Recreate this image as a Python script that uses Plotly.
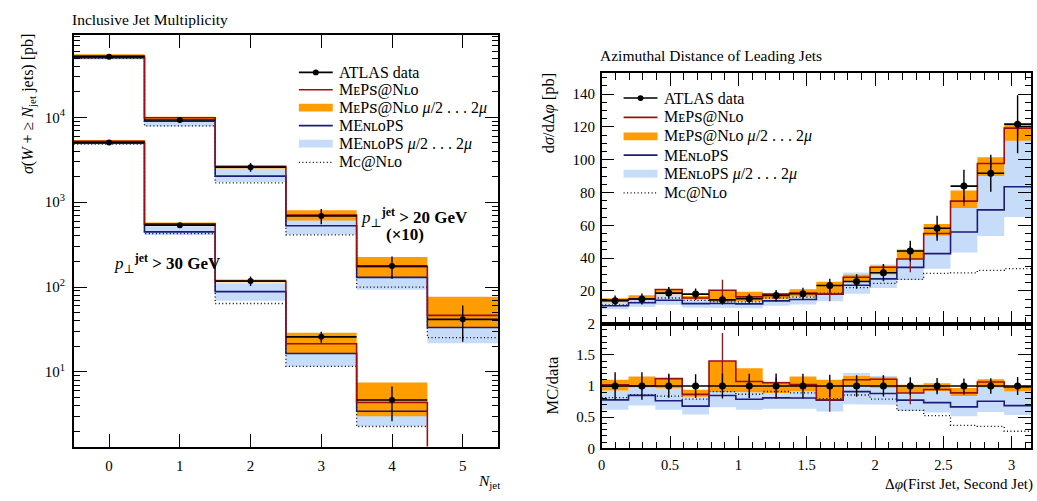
import math
import plotly.graph_objects as go

# ---------------- Inclusive jet multiplicity ----------------
njet = [0, 1, 2, 3, 4, 5]
njet_ticks = ["0", "1", "2", "3", "4", "5"]
# pT(jet) > 20 GeV, scaled x10
data20 = [52000, 9300, 2590, 690, 177, 41.6]
data20_err = [1500, 700, 310, 140, 52, 19]
meps20 = [52700, 9900, 2630, 705, 174, 46.3]
meps20_lo = [49500, 9500, 2500, 607, 130, 33.4]
meps20_hi = [55500, 10200, 2720, 803, 226, 77]
menlops20 = [50700, 9000, 2030, 528, 130, 33.4]
menlops20_lo = [48000, 7800, 1730, 416, 93, 21.7]
menlops20_hi = [53000, 9500, 2520, 650, 175, 40]
mcnlo20 = [49500, 7950, 1690, 413, 100, 25.3]
# pT(jet) > 30 GeV
njet30 = [0, 1, 2, 3, 4]
data30 = [5050, 537, 118, 25.9, 4.67]
data30_err = [150, 30, 15, 3.9, 2.05]
meps30 = [5220, 556, 117, 21.5, 4.35, 0]
meps30_lo = [5000, 530, 114, 16.4, 3.0]
meps30_hi = [5400, 575, 123, 28.9, 7.5]
menlops30 = [4960, 447, 88.4, 16.5, 3.43]
menlops30_lo = [4800, 410, 69, 11.6, 2.28]
menlops30_hi = [5150, 520, 111, 20, 3.6]
mcnlo30 = [4850, 428, 64, 11.6, 2.27]

# ---------------- Azimuthal distance of leading jets ----------------
n_dphi = 16
dphi_data = [14.0, 15.0, 18.6, 18.0, 14.5, 15.2, 17.1, 18.2,
             23.2, 25.7, 31.0, 44.3, 58.2, 83.9, 91.7, 121.7]
dphi_data_err = [3.1, 3.3, 3.5, 3.4, 2.9, 3.0, 3.4, 3.6,
                 4.2, 4.4, 5.2, 6.2, 7.6, 10.0, 11.3, 17.7]
dphi_meps = [14.3, 15.0, 20.8, 15.6, 20.3, 16.3, 18.0, 18.6,
             18.1, 28.3, 34.4, 39.4, 55.0, 74.7, 97.7, 119.3]
dphi_meps_err = [0.8, 0.8, 1.5, 0.8, 6.5, 1.0, 1.5, 1.2,
                 4.5, 1.5, 2.0, 8.0, 2.5, 3.0, 3.0, 5.0]
dphi_meps_lo = [13.0, 14.7, 17.9, 14.9, 13.1, 13.7, 15.2, 16.6,
                17.9, 25.7, 30.1, 39.4, 53.6, 70.6, 90.0, 111.5]
dphi_meps_hi = [15.4, 17.3, 21.0, 16.9, 20.3, 19.5, 18.3, 21.0,
                25.5, 29.8, 35.3, 45.2, 60.8, 81.2, 101.5, 121.5]
dphi_menlops = [10.9, 12.75, 14.2, 12.2, 12.3, 12.0, 13.85, 14.7,
                17.9, 23.4, 27.3, 34.3, 42.7, 55.9, 69.4, 83.5]
dphi_menlops_lo = [8.7, 10.3, 11.5, 9.8, 9.6, 9.4, 10.9, 11.6,
                   13.7, 18.2, 21.7, 26.6, 33.5, 43.4, 53.4, 65.0]
dphi_menlops_hi = [13.0, 14.85, 17.7, 14.9, 13.6, 13.7, 15.6, 16.6,
                   22.0, 31.1, 36.0, 39.9, 53.6, 70.6, 92.0, 112.0]
dphi_mcnlo = [11.4, 12.9, 15.6, 14.2, 13.2, 13.2, 15.6, 16.2,
              18.5, 22.0, 24.5, 27.0, 30.6, 31.0, 32.5, 33.6]

# ---------------- styling ----------------
W, H = 1037, 501
FONT = "Liberation Serif, DejaVu Serif"
ORANGE = "#ff9c00"
LBLUE = "#c6dcf9"
RED = "#9a1010"
NAVY = "#1c1c78"
DOT = "1px,2.5px"


def px(x):
    return x / W


def py(y):
    return 1 - y / H


def step(edges, vals, floor=None):
    v = [(floor if (floor is not None and y <= 0) else y) for y in vals]
    return list(edges), v + [v[-1]]


def band(edges, lo, hi):
    xs, ys = [], []
    for i in range(len(hi)):
        xs += [edges[i], edges[i + 1]]
        ys += [hi[i], hi[i]]
    for i in reversed(range(len(lo))):
        xs += [edges[i + 1], edges[i]]
        ys += [lo[i], lo[i]]
    xs.append(xs[0])
    ys.append(ys[0])
    return xs, ys


fig = go.Figure()

# ---------- left panel ----------
edges_l = [n - 0.5 for n in njet] + [njet[-1] + 0.5]
edges_l30 = [n - 0.5 for n in njet30] + [njet30[-1] + 0.5]


def add_left(edges, dvals, derr, xs_c, mp, mp_lo, mp_hi, mn, mn_lo, mn_hi, mc):
    bx, by = band(edges, mn_lo, mn_hi)
    fig.add_trace(go.Scatter(x=bx, y=by, fill="toself", fillcolor=LBLUE, line=dict(width=0),
                             mode="lines", showlegend=False, hoverinfo="skip", xaxis="x", yaxis="y"))
    bx, by = band(edges, mp_lo, mp_hi)
    fig.add_trace(go.Scatter(x=bx, y=by, fill="toself", fillcolor=ORANGE, line=dict(width=0),
                             mode="lines", showlegend=False, hoverinfo="skip", xaxis="x", yaxis="y"))
    sx, sy = step(edges, mc)
    fig.add_trace(go.Scatter(x=sx, y=sy, mode="lines", line=dict(color="black", width=1.3, dash=DOT, shape="hv"),
                             showlegend=False, xaxis="x", yaxis="y"))
    sx, sy = step(edges, mn)
    fig.add_trace(go.Scatter(x=sx, y=sy, mode="lines", line=dict(color=NAVY, width=1.6, shape="hv"),
                             showlegend=False, xaxis="x", yaxis="y"))
    e_mp = edges if len(mp) + 1 == len(edges) else edges_l
    sx, sy = step(e_mp, mp, floor=0.01)
    fig.add_trace(go.Scatter(x=sx, y=sy, mode="lines", line=dict(color=RED, width=1.6, shape="hv"),
                             showlegend=False, xaxis="x", yaxis="y"))
    fig.add_trace(go.Scatter(x=xs_c, y=dvals, mode="markers",
                             marker=dict(color="black", size=6),
                             error_x=dict(type="constant", value=0.5, color="black", thickness=1.6, width=0),
                             error_y=dict(type="data", array=derr, color="black", thickness=1.4, width=0),
                             showlegend=False, xaxis="x", yaxis="y"))


add_left(edges_l, data20, data20_err, njet, meps20, meps20_lo, meps20_hi,
         menlops20, menlops20_lo, menlops20_hi, mcnlo20)
add_left(edges_l30, data30, data30_err, njet30, meps30, meps30_lo, meps30_hi,
         menlops30, menlops30_lo, menlops30_hi, mcnlo30)

# ---------- right panels ----------
bw = math.pi / n_dphi
edges_r = [i * bw for i in range(n_dphi + 1)]
centers_r = [(i + 0.5) * bw for i in range(n_dphi)]


def ratio(a):
    return [v / d for v, d in zip(a, dphi_data)]


for xa, ya, scale in (("x2", "y2", False), ("x3", "y3", True)):
    f = ratio if scale else (lambda a: list(a))
    bx, by = band(edges_r, f(dphi_menlops_lo), f(dphi_menlops_hi))
    fig.add_trace(go.Scatter(x=bx, y=by, fill="toself", fillcolor=LBLUE, line=dict(width=0),
                             mode="lines", showlegend=False, hoverinfo="skip", xaxis=xa, yaxis=ya))
    bx, by = band(edges_r, f(dphi_meps_lo), f(dphi_meps_hi))
    fig.add_trace(go.Scatter(x=bx, y=by, fill="toself", fillcolor=ORANGE, line=dict(width=0),
                             mode="lines", showlegend=False, hoverinfo="skip", xaxis=xa, yaxis=ya))
    sx, sy = step(edges_r, f(dphi_mcnlo))
    fig.add_trace(go.Scatter(x=sx, y=sy, mode="lines", line=dict(color="black", width=1.3, dash=DOT, shape="hv"),
                             showlegend=False, xaxis=xa, yaxis=ya))
    sx, sy = step(edges_r, f(dphi_menlops))
    fig.add_trace(go.Scatter(x=sx, y=sy, mode="lines", line=dict(color=NAVY, width=1.6, shape="hv"),
                             showlegend=False, xaxis=xa, yaxis=ya))
    sx, sy = step(edges_r, f(dphi_meps))
    fig.add_trace(go.Scatter(x=sx, y=sy, mode="lines", line=dict(color=RED, width=1.6, shape="hv"),
                             showlegend=False, xaxis=xa, yaxis=ya))
    fig.add_trace(go.Scatter(x=centers_r, y=f(dphi_meps), mode="markers",
                             marker=dict(color="rgba(0,0,0,0)", size=1),
                             error_y=dict(type="data", array=f(dphi_meps_err), color=RED, thickness=1.3, width=0),
                             showlegend=False, hoverinfo="skip", xaxis=xa, yaxis=ya))
    fig.add_trace(go.Scatter(x=centers_r, y=f(dphi_data), mode="markers",
                             marker=dict(color="black", size=7),
                             error_x=dict(type="constant", value=bw / 2, color="black", thickness=1.6, width=0),
                             error_y=dict(type="data", array=f(dphi_data_err), color="black", thickness=1.4, width=0),
                             showlegend=False, xaxis=xa, yaxis=ya))

# ---------- axes ----------
tickfont = dict(family=FONT, size=15, color="black")
common = dict(showline=True, linecolor="black", linewidth=1.6, mirror="ticks", ticks="inside",
              tickcolor="black", tickwidth=1.2, showgrid=False, zeroline=False, tickfont=tickfont)

log_minor = [m * 10 ** k for k in range(0, 5) for m in range(2, 10)]

fig.update_layout(
    width=W, height=H,
    margin=dict(l=0, r=0, t=0, b=0),
    paper_bgcolor="white", plot_bgcolor="white",
    showlegend=False,
    xaxis=dict(domain=[px(70), px(496)], range=[-0.5, 5.5], anchor="y",
               tickvals=njet, ticktext=njet_ticks, ticklen=13, ticklabelstandoff=5, **common),
    yaxis=dict(domain=[py(453), py(28)], type="log", range=[0.12, 4.97], anchor="x",
               tickvals=[10, 100, 1000, 10000],
               ticktext=["10<sup>1</sup>", "10<sup>2</sup>", "10<sup>3</sup>", "10<sup>4</sup>"],
               ticklen=13, ticklabelstandoff=4,
               minor=dict(tickvals=log_minor, ticks="inside", ticklen=6, tickcolor="black", tickwidth=1),
               **common),
    xaxis2=dict(domain=[px(600), px(1031)], range=[0, math.pi], anchor="y2",
                dtick=0.5, tick0=0, ticklen=13, showticklabels=False,
                minor=dict(dtick=0.1, tick0=0, ticks="inside", ticklen=7, tickcolor="black", tickwidth=1),
                **common),
    yaxis2=dict(domain=[py(326), py(67)], range=[0, 153], anchor="x2",
                tickvals=[20, 40, 60, 80, 100, 120, 140], ticklen=13, ticklabelstandoff=2,
                minor=dict(dtick=5, tick0=0, ticks="inside", ticklen=6, tickcolor="black", tickwidth=1),
                **common),
    xaxis3=dict(domain=[px(600), px(1031)], range=[0, math.pi], anchor="y3",
                tickvals=[0, 0.5, 1, 1.5, 2, 2.5, 3], ticktext=["0", "0.5", "1", "1.5", "2", "2.5", "3"],
                ticklen=13, ticklabelstandoff=2,
                minor=dict(dtick=0.1, tick0=0, ticks="inside", ticklen=7, tickcolor="black", tickwidth=1),
                **common),
    yaxis3=dict(domain=[py(455), py(326)], range=[0, 2], anchor="x3",
                tickvals=[0, 0.5, 1, 1.5, 2], ticktext=["0", "0.5", "1", "1.5", "2"], ticklen=13,
                ticklabelstandoff=2,
                minor=dict(dtick=0.1, tick0=0, ticks="inside", ticklen=6, tickcolor="black", tickwidth=1),
                **common),
)
fig.update_xaxes(tickfont=dict(family=FONT, size=14.5, color="black"), selector=dict(anchor="y3"))

# ---------- texts ----------
ann = []


def text(x, y, s, size=15, xanchor="left", yanchor="middle", angle=0):
    ann.append(dict(x=px(x), y=py(y), xref="paper", yref="paper", text=s, showarrow=False,
                    xanchor=xanchor, yanchor=yanchor, textangle=angle, borderpad=0,
                    font=dict(family=FONT, size=size, color="black")))


text(67, 12, "Inclusive Jet Multiplicity", size=15.5)
text(597, 49, "Azimuthal Distance of Leading Jets", size=15.5)
text(24, 26, "<i>σ</i>(<i>W</i> + ≥ <i>N</i><sub>jet</sub> jets) [pb]", size=16, xanchor="center",
     yanchor="top", angle=-90)
text(547, 65, "d<i>σ</i>/dΔ<i>φ</i> [pb]", size=16.5, xanchor="center", yanchor="top", angle=-90)
text(551, 390, "MC/data", size=16.5, xanchor="center", yanchor="middle", angle=-90)
text(499, 489, "<i>N</i><sub>jet</sub>", size=15.5, xanchor="right")
text(1034, 492, "Δ<i>φ</i>(First Jet, Second Jet)", size=15, xanchor="right")
text(357, 216, "<i>p</i><sub>⊥</sub><sup><b>jet</b></sup> <b>&gt; 20 GeV</b>", size=17)
text(403, 234, "<b>(×10)</b>", size=17, xanchor="center")
text(109, 264, "<i>p</i><sub>⊥</sub><sup><b>jet</b></sup> <b>&gt; 30 GeV</b>", size=17)

# small capitals written with Unicode small-capital letters
lab_meps = "M\u1d07P\ua731@N\u029f\u1d0f"
lab_menlops = "ME\u0274\u029f\u1d0fPS"
lab_mcnlo = "M\u1d04@N\u029f\u1d0f"
mu = " <i>μ</i>/2 . . . 2<i>μ</i>"
legend_items = [("data", "ATLAS data"), ("meps", lab_meps), ("mepsband", lab_meps + mu),
                ("menlops", lab_menlops), ("menlopsband", lab_menlops + mu), ("mcnlo", lab_mcnlo)]

shapes = []


def legend(x0, x1, xt, rows):
    for (kind, lab), yc in zip(legend_items, rows):
        if kind == "data":
            shapes.append(dict(type="line", xref="paper", yref="paper", x0=px(x0), x1=px(x1),
                               y0=py(yc), y1=py(yc), line=dict(color="black", width=1.6)))
            cx = (x0 + x1) / 2
            shapes.append(dict(type="circle", xref="paper", yref="paper", x0=px(cx - 3), x1=px(cx + 3),
                               y0=py(yc + 3), y1=py(yc - 3), fillcolor="black", line=dict(color="black", width=0)))
        elif kind in ("meps", "menlops", "mcnlo"):
            col = {"meps": RED, "menlops": NAVY, "mcnlo": "black"}[kind]
            shapes.append(dict(type="line", xref="paper", yref="paper", x0=px(x0), x1=px(x1),
                               y0=py(yc), y1=py(yc),
                               line=dict(color=col, width=1.3 if kind == "mcnlo" else 1.6,
                                         dash=DOT if kind == "mcnlo" else "solid")))
        else:
            col = ORANGE if kind == "mepsband" else LBLUE
            shapes.append(dict(type="rect", xref="paper", yref="paper", x0=px(x0), x1=px(x1),
                               y0=py(yc + 4), y1=py(yc - 4), fillcolor=col, line=dict(width=0)))
        text(xt, yc, lab, size=16)


legend(296, 330, 335, [66.5, 84.5, 103, 121.5, 140, 159.5])
legend(622, 656, 662, [93, 113, 132.5, 152, 171, 191])

fig.update_layout(annotations=ann, shapes=shapes)
fig.write_html("out.html")
